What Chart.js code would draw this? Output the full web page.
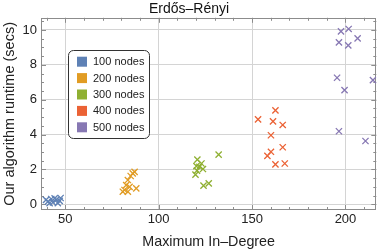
<!DOCTYPE html>
<html lang="en">
<head>
  <meta charset="UTF-8">
  <title>Erdős–Rényi runtime</title>
  <style>
    html, body { margin: 0; padding: 0; background: #fff; }
    #wrap { width: 382px; height: 251px; }
  </style>
</head>
<body>
<div id="wrap"><canvas id="chart"></canvas></div>

<script src="https://cdn.jsdelivr.net/npm/chart.js"></script>
<script>
  // series labels and colours
  const seriesNames = ['100 nodes', '200 nodes', '300 nodes', '400 nodes', '500 nodes'];
  const seriesColors = ['#5e81b5', '#e19c24', '#8fb032', '#eb6235', '#8778b3'];

  // maximum in-degree (x) and runtime in secs (y), one pair of arrays per series
  const deg100 = [40.7, 42.5, 43.4, 45.2, 47.0, 41.6, 44.3, 46.0, 39.7, 47.5];
  const run100 = [0.15, 0.30, 0.11, 0.25, 0.19, 0.06, 0.34, 0.06, 0.25, 0.36];

  const deg200 = [86.1, 87.1, 83.5, 82.6, 84.4, 88.0, 81.7, 83.5, 80.8, 85.0];
  const run200 = [1.77, 1.86, 1.39, 1.10, 1.00, 0.91, 0.82, 0.72, 0.72, 1.62];

  const deg300 = [120.7, 122.9, 120.2, 121.8, 123.7, 120.5, 119.7, 124.0, 126.8, 132.1];
  const run300 = [2.56, 2.34, 2.19, 2.15, 2.02, 1.93, 1.70, 1.07, 1.20, 2.85];

  const deg400 = [162.5, 153.2, 161.2, 166.4, 160.1, 166.4, 160.1, 158.2, 162.5, 167.5];
  const run400 = [5.39, 4.87, 4.76, 4.55, 3.96, 3.27, 3.01, 2.78, 2.29, 2.34];

  const deg500 = [197.6, 201.7, 206.5, 196.5, 201.5, 195.5, 214.7, 199.5, 196.5, 210.7];
  const run500 = [9.92, 10.06, 9.52, 9.29, 9.12, 7.26, 7.12, 6.55, 4.19, 3.63];

  const xTicks = [50, 100, 150, 200];
  const yTicks = [0, 2, 4, 6, 8, 10];

  const allDeg = [deg100, deg200, deg300, deg400, deg500];
  const allRun = [run100, run200, run300, run400, run500];

  const FONT = '"Liberation Sans", Arial, sans-serif';

  const datasets = seriesNames.map((name, i) => ({
    label: name,
    data: allDeg[i].map((x, j) => ({ x: x, y: allRun[i][j] })),
    pointStyle: 'crossRot',
    pointRadius: 4.4,
    pointHoverRadius: 4.4,
    borderColor: seriesColors[i],
    backgroundColor: seriesColors[i],
    borderWidth: 1.3
  }));

  // frame, minor ticks and the inset legend
  const framePlugin = {
    id: 'frame',
    beforeDatasetsDraw(chart) {
      const ctx = chart.ctx;
      const a = chart.chartArea;
      const xs = chart.scales.x, ys = chart.scales.y;
      ctx.save();
      ctx.strokeStyle = '#8c8c8c';
      ctx.lineWidth = 1;
      ctx.beginPath();
      for (let v = 40; v <= 216; v += 10) {
        const px = Math.round(xs.getPixelForValue(v)) + 0.5;
        const len = v % 50 === 0 ? 5 : 3;
        ctx.moveTo(px, a.bottom); ctx.lineTo(px, a.bottom - len);
        ctx.moveTo(px, a.top); ctx.lineTo(px, a.top + len);
      }
      for (let v = 0; v <= 10.5; v += 0.5) {
        const py = Math.round(ys.getPixelForValue(v)) + 0.5;
        const len = v % 2 === 0 ? 5 : 3;
        ctx.moveTo(a.left, py); ctx.lineTo(a.left + len, py);
        ctx.moveTo(a.right, py); ctx.lineTo(a.right - len, py);
      }
      ctx.stroke();
      ctx.strokeRect(Math.round(a.left) + 0.5, Math.round(a.top) + 0.5,
        Math.round(a.right - a.left) - 1, Math.round(a.bottom - a.top) - 1);
      ctx.restore();
    },
    afterDatasetsDraw(chart) {
      const ctx = chart.ctx;
      const bx = 68.5, by = 50.5, bw = 81, bh = 88, r = 5;
      ctx.save();
      ctx.fillStyle = '#ffffff';
      ctx.strokeStyle = '#333333';
      ctx.lineWidth = 1;
      ctx.beginPath();
      ctx.roundRect(bx, by, bw, bh, r);
      ctx.fill();
      ctx.stroke();
      ctx.font = '11px ' + FONT;
      ctx.textBaseline = 'middle';
      chart.data.datasets.forEach((ds, i) => {
        const cy = 61.7 + i * 16.4;
        ctx.fillStyle = ds.borderColor;
        ctx.fillRect(77, cy - 5, 10, 10);
        ctx.fillStyle = '#222';
        ctx.fillText(ds.label, 93, cy + 0.5);
      });
      ctx.restore();
    }
  };

  new Chart(document.getElementById('chart'), {
    type: 'scatter',
    data: { datasets: datasets },
    plugins: [framePlugin],
    options: {
      responsive: true,
      maintainAspectRatio: false,
      animation: false,
      events: [],
      layout: { padding: { left: 0, right: 4, top: 0, bottom: 0 } },
      plugins: {
        legend: { display: false },
        tooltip: { enabled: false },
        title: {
          display: true,
          text: 'Erdős–Rényi',
          color: '#111',
          font: { family: FONT, size: 14, weight: 'normal' },
          padding: { top: 1, bottom: 0 }
        }
      },
      scales: {
        x: {
          type: 'linear',
          min: 37,
          max: 216.5,
          afterBuildTicks: (s) => { s.ticks = xTicks.map(v => ({ value: v })); },
          afterFit: (s) => { s.height = 41; },
          grid: { color: '#d4d4d4', drawTicks: false },
          border: { display: false },
          ticks: {
            color: '#222',
            padding: 2,
            font: { family: FONT, size: 13 }
          },
          title: {
            display: true,
            text: 'Maximum In–Degree',
            color: '#222',
            font: { family: FONT, size: 14.3 },
            padding: { top: 0, bottom: 0.5 }
          }
        },
        y: {
          type: 'linear',
          min: -0.33,
          max: 10.7,
          afterBuildTicks: (s) => { s.ticks = yTicks.map(v => ({ value: v })); },
          afterFit: (s) => { s.width = 41; },
          grid: { color: '#d4d4d4', drawTicks: false },
          border: { display: false },
          ticks: {
            color: '#222',
            padding: 4,
            font: { family: FONT, size: 13 }
          },
          title: {
            display: true,
            text: 'Our algorithm runtime (secs)',
            color: '#222',
            font: { family: FONT, size: 14.5 },
            padding: { top: 1, bottom: 0 }
          }
        }
      }
    }
  });
</script>
</body>
</html>
